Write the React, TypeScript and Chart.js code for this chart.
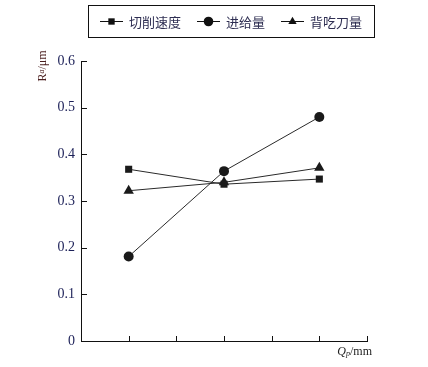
import React, { useEffect, useRef } from "react";
import { Chart, registerables } from "chart.js";

Chart.register(...registerables);

const xPositions = [1, 3, 5];
const seriesNames = ["切削速度", "进给量", "背吃刀量"];
const cuttingSpeed = [0.368, 0.336, 0.347];
const feedRate = [0.181, 0.364, 0.48];
const cutDepth = [0.322, 0.34, 0.371];
const yTicks = [0, 0.1, 0.2, 0.3, 0.4, 0.5, 0.6];
const xTicks = [1, 2, 3, 4, 5, 6];

const pointStyles = ["rect", "circle", "triangle"];
const pointRadii = [5, 5, 6];

function drawMarker(ctx: CanvasRenderingContext2D, style: string, x: number, y: number, r: number) {
  ctx.beginPath();
  if (style === "rect") {
    const s = Math.SQRT1_2 * r;
    ctx.rect(x - s, y - s, 2 * s, 2 * s);
  } else if (style === "circle") {
    ctx.arc(x, y, r, 0, Math.PI * 2);
  } else {
    ctx.moveTo(x, y - r);
    ctx.lineTo(x + r * Math.sin(Math.PI / 3), y + r * 0.5);
    ctx.lineTo(x - r * Math.sin(Math.PI / 3), y + r * 0.5);
    ctx.closePath();
  }
  ctx.fill();
}

const decorPlugin = {
  id: "decor",
  afterDraw(chart: any) {
    const ctx: CanvasRenderingContext2D = chart.ctx;
    const xs = chart.scales.x;
    const ys = chart.scales.y;
    const area = chart.chartArea;
    ctx.save();
    // inward tick marks
    ctx.strokeStyle = "#111";
    ctx.lineWidth = 1;
    ctx.beginPath();
    yTicks.forEach((v) => {
      const py = Math.round(ys.getPixelForValue(v)) + 0.5;
      ctx.moveTo(area.left, py);
      ctx.lineTo(area.left + 6, py);
    });
    xTicks.forEach((v) => {
      const px = Math.round(xs.getPixelForValue(v)) + 0.5;
      ctx.moveTo(px, area.bottom);
      ctx.lineTo(px, area.bottom - 5);
    });
    ctx.stroke();

    // legend box
    const boxL = 88, boxT = 5, boxW = 286, boxH = 32;
    ctx.strokeStyle = "#111";
    ctx.strokeRect(boxL + 0.5, boxT + 0.5, boxW, boxH);
    ctx.font = '13px "Noto Sans CJK SC"';
    ctx.textBaseline = "middle";
    ctx.textAlign = "left";
    const cy = boxT + boxH / 2 + 0.5;
    let cx = 100;
    chart.data.datasets.forEach((ds: any, i: number) => {
      ctx.strokeStyle = "#111";
      ctx.fillStyle = "#111";
      ctx.beginPath();
      ctx.moveTo(cx, cy);
      ctx.lineTo(cx + 23, cy);
      ctx.stroke();
      drawMarker(ctx, pointStyles[i], cx + 11.5, cy, i === 0 ? 4.5 : 4.8);
      cx += 29;
      ctx.fillStyle = "#2e2e52";
      ctx.fillText(ds.label, cx, cy + 1);
      cx += ctx.measureText(ds.label).width + 16;
    });

    // y title: R_a/μm rotated
    ctx.save();
    ctx.translate(42, 66);
    ctx.rotate(-Math.PI / 2);
    ctx.fillStyle = "#4a1e1e";
    ctx.textBaseline = "alphabetic";
    ctx.textAlign = "left";
    const f1 = '12px "Liberation Serif"';
    const f2 = 'italic 8px "Liberation Serif"';
    ctx.font = f1;
    const wR = ctx.measureText("R").width;
    ctx.font = f2;
    const wa = ctx.measureText("a").width;
    ctx.font = f1;
    const wRest = ctx.measureText("/μm").width;
    const total = wR + wa + wRest;
    let tx = -total / 2;
    const base = 4;
    ctx.font = f1;
    ctx.fillText("R", tx, base);
    tx += wR;
    ctx.font = f2;
    ctx.fillText("a", tx, base - 2);
    tx += wa;
    ctx.font = f1;
    ctx.fillText("/μm", tx, base);
    ctx.restore();

    // x title: Q_p/mm right aligned
    ctx.fillStyle = "#222";
    ctx.textBaseline = "alphabetic";
    const g1 = 'italic 12px "Liberation Serif"';
    const g2 = 'italic 8px "Liberation Serif"';
    const g3 = '12px "Liberation Serif"';
    ctx.font = g1;
    const wQ = ctx.measureText("Q").width;
    ctx.font = g2;
    const wp = ctx.measureText("p").width;
    ctx.font = g3;
    const wmm = ctx.measureText("/mm").width;
    let qx = 372 - (wQ + wp + wmm);
    const qb = 355;
    ctx.font = g1;
    ctx.fillText("Q", qx, qb);
    qx += wQ;
    ctx.font = g2;
    ctx.fillText("p", qx, qb + 1);
    qx += wp;
    ctx.font = g3;
    ctx.fillText("/mm", qx, qb);
    ctx.restore();
  },
};

export default function App() {
  const ref = useRef<HTMLCanvasElement | null>(null);
  useEffect(() => {
    document.body.style.margin = "0";
    const series = [cuttingSpeed, feedRate, cutDepth];
    const chart = new Chart(ref.current!, {
      type: "line",
      data: {
        datasets: series.map((vals, i) => ({
          label: seriesNames[i],
          data: xPositions.map((x, j) => ({ x, y: vals[j] })),
          borderColor: "#2a2a2a",
          backgroundColor: "#1a1a1a",
          borderWidth: 1,
          pointStyle: pointStyles[i] as any,
          pointRadius: pointRadii[i],
          pointBorderWidth: 0,
          pointBackgroundColor: "#1a1a1a",
          tension: 0,
        })),
      },
      options: {
        animation: false,
        responsive: false,
        events: [],
        layout: { padding: { left: 0, top: 61, right: 61, bottom: 26 } },
        plugins: { legend: { display: false }, tooltip: { enabled: false } },
        scales: {
          x: {
            type: "linear",
            min: 0,
            max: 6,
            ticks: { display: false, stepSize: 1 },
            grid: { display: true, drawOnChartArea: false, drawTicks: false },
            border: { display: true, color: "#111", width: 1 },
            afterFit: (s: any) => {
              s.height = 0;
            },
          },
          y: {
            min: 0,
            max: 0.6,
            afterBuildTicks: (s: any) => {
              s.ticks = yTicks.map((v) => ({ value: v }));
            },
            ticks: {
              padding: 6,
              color: "#1c2058",
              font: { family: '"Liberation Serif"', size: 14 },
              callback: (v: any) => (Number(v) === 0 ? "0" : Number(v).toFixed(1)),
            },
            grid: { display: true, drawOnChartArea: false, drawTicks: false },
            border: { display: true, color: "#111", width: 1 },
            afterFit: (s: any) => {
              s.width = 81;
            },
          },
        },
      },
      plugins: [decorPlugin],
    });
    return () => chart.destroy();
  }, []);
  return <canvas ref={ref} width={428} height={367} />;
}
